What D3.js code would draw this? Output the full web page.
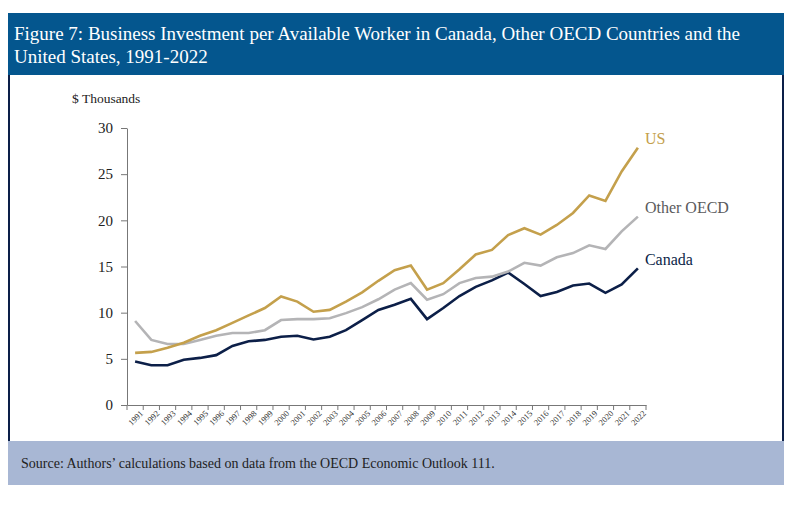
<!DOCTYPE html>
<html>
<head>
<meta charset="utf-8">
<script src="https://cdn.jsdelivr.net/npm/d3@7"></script>
<style>
  body { margin: 0; background: #fff; }
  svg { display: block; }
</style>
</head>
<body>
<svg width="800" height="510"></svg>
<script>
// data ($ thousands per available worker)
const years = d3.range(1991, 2023);
const canada = [4.7, 4.3, 4.3, 4.9, 5.1, 5.4, 6.4, 6.9, 7.05, 7.4, 7.5, 7.1, 7.4, 8.1, 9.2, 10.3,
  10.85, 11.5, 9.3, 10.5, 11.8, 12.8, 13.5, 14.35, 13.1, 11.8, 12.25, 12.95, 13.15, 12.15, 13.05, 14.8];
const otherOECD = [9.1, 7.05, 6.6, 6.6, 7.05, 7.5, 7.8, 7.8, 8.1, 9.2, 9.3, 9.3, 9.4, 9.95, 10.6, 11.45,
  12.5, 13.2, 11.4, 12.0, 13.2, 13.75, 13.9, 14.45, 15.4, 15.1, 16.0, 16.45, 17.3, 16.9, 18.8, 20.4];
const us = [5.65, 5.75, 6.2, 6.75, 7.5, 8.1, 8.9, 9.7, 10.5, 11.75, 11.2, 10.1, 10.3, 11.2, 12.2, 13.45,
  14.6, 15.1, 12.5, 13.2, 14.7, 16.3, 16.8, 18.4, 19.15, 18.45, 19.5, 20.8, 22.7, 22.1, 25.3, 27.85];
const yTicks = [0, 5, 10, 15, 20, 25, 30];

const series = [
  {name: "US", values: us, color: "#c4a04c", label: "#c4a04c", dy: -4},
  {name: "Other OECD", values: otherOECD, color: "#b4b4b6", label: "#5a5a5c", dy: -4},
  {name: "Canada", values: canada, color: "#0c1f48", label: "#0c1f48", dy: -3}
];

const svg = d3.select("svg");

// frame: title bar, white panel, source box
svg.append("rect").attr("x", 8).attr("y", 13).attr("width", 776).attr("height", 62).attr("fill", "#04568e");
svg.append("rect").attr("x", 8).attr("y", 75).attr("width", 776).attr("height", 366).attr("fill", "#fff");
svg.append("line").attr("x1", 9).attr("x2", 9).attr("y1", 75).attr("y2", 441).attr("stroke", "#0c1f48").attr("stroke-width", 2);
svg.append("line").attr("x1", 783).attr("x2", 783).attr("y1", 75).attr("y2", 441).attr("stroke", "#0c1f48").attr("stroke-width", 2);
svg.append("rect").attr("x", 8).attr("y", 441).attr("width", 776).attr("height", 44).attr("fill", "#a8b7d4");

svg.append("text").attr("x", 14).attr("y", 40).attr("fill", "#fff").attr("font-size", 19)
  .text("Figure 7: Business Investment per Available Worker in Canada, Other OECD Countries and the");
svg.append("text").attr("x", 14).attr("y", 63).attr("fill", "#fff").attr("font-size", 19)
  .text("United States, 1991-2022");

svg.append("text").attr("x", 21).attr("y", 468).attr("fill", "#222").attr("font-size", 14)
  .text("Source: Authors\u2019 calculations based on data from the OECD Economic Outlook 111.");

// scales
const x = d3.scaleBand().domain(years).range([127, 646]);
const y = d3.scaleLinear().domain([0, 30]).range([405, 128]);
const cx = d => x(d) + x.bandwidth() / 2;

svg.append("text").attr("x", 72).attr("y", 103).attr("font-size", 13.5).attr("fill", "#222").text("$ Thousands");

// y axis
const yAxis = svg.append("g").attr("transform", "translate(127,0)")
  .call(d3.axisLeft(y).tickValues(yTicks).tickSize(6).tickPadding(8).tickSizeOuter(0));
yAxis.select(".domain").attr("stroke", "#777");
yAxis.selectAll(".tick line").attr("stroke", "#777");
yAxis.selectAll("text").attr("font-size", 15).attr("fill", "#222");

// x axis: labels at centres, ticks at band edges
const xAxis = svg.append("g").attr("transform", "translate(0,405)")
  .call(d3.axisBottom(x).tickSize(0).tickPadding(8).tickSizeOuter(0));
xAxis.select(".domain").attr("stroke", "#777");
xAxis.selectAll(".tick text").attr("font-size", 8.5).attr("fill", "#333")
  .attr("text-anchor", "end").attr("dx", "0.3em").attr("dy", "0.2em")
  .attr("transform", "translate(0,4) rotate(-45)");
const edges = years.map(d => x(d)).concat([x(years[years.length - 1]) + x.step()]);
xAxis.selectAll("line.edge").data(edges).join("line").attr("class", "edge")
  .attr("x1", d => d).attr("x2", d => d).attr("y1", 0).attr("y2", 5).attr("stroke", "#777");

// lines
const line = d3.line().x((d, i) => cx(years[i])).y(d => y(d));
series.slice().reverse().forEach(s => {
  svg.append("path").datum(s.values).attr("d", line)
    .attr("fill", "none").attr("stroke", s.color).attr("stroke-width", 2.6);
});

// end labels
series.forEach(s => {
  const last = s.values[s.values.length - 1];
  svg.append("text").attr("x", cx(years[years.length - 1]) + 7).attr("y", y(last) + s.dy)
    .attr("font-size", 16).attr("fill", s.label).text(s.name);
});

svg.selectAll("text").style("font-family", "'Liberation Serif', 'DejaVu Serif', serif");
</script>
</body>
</html>
